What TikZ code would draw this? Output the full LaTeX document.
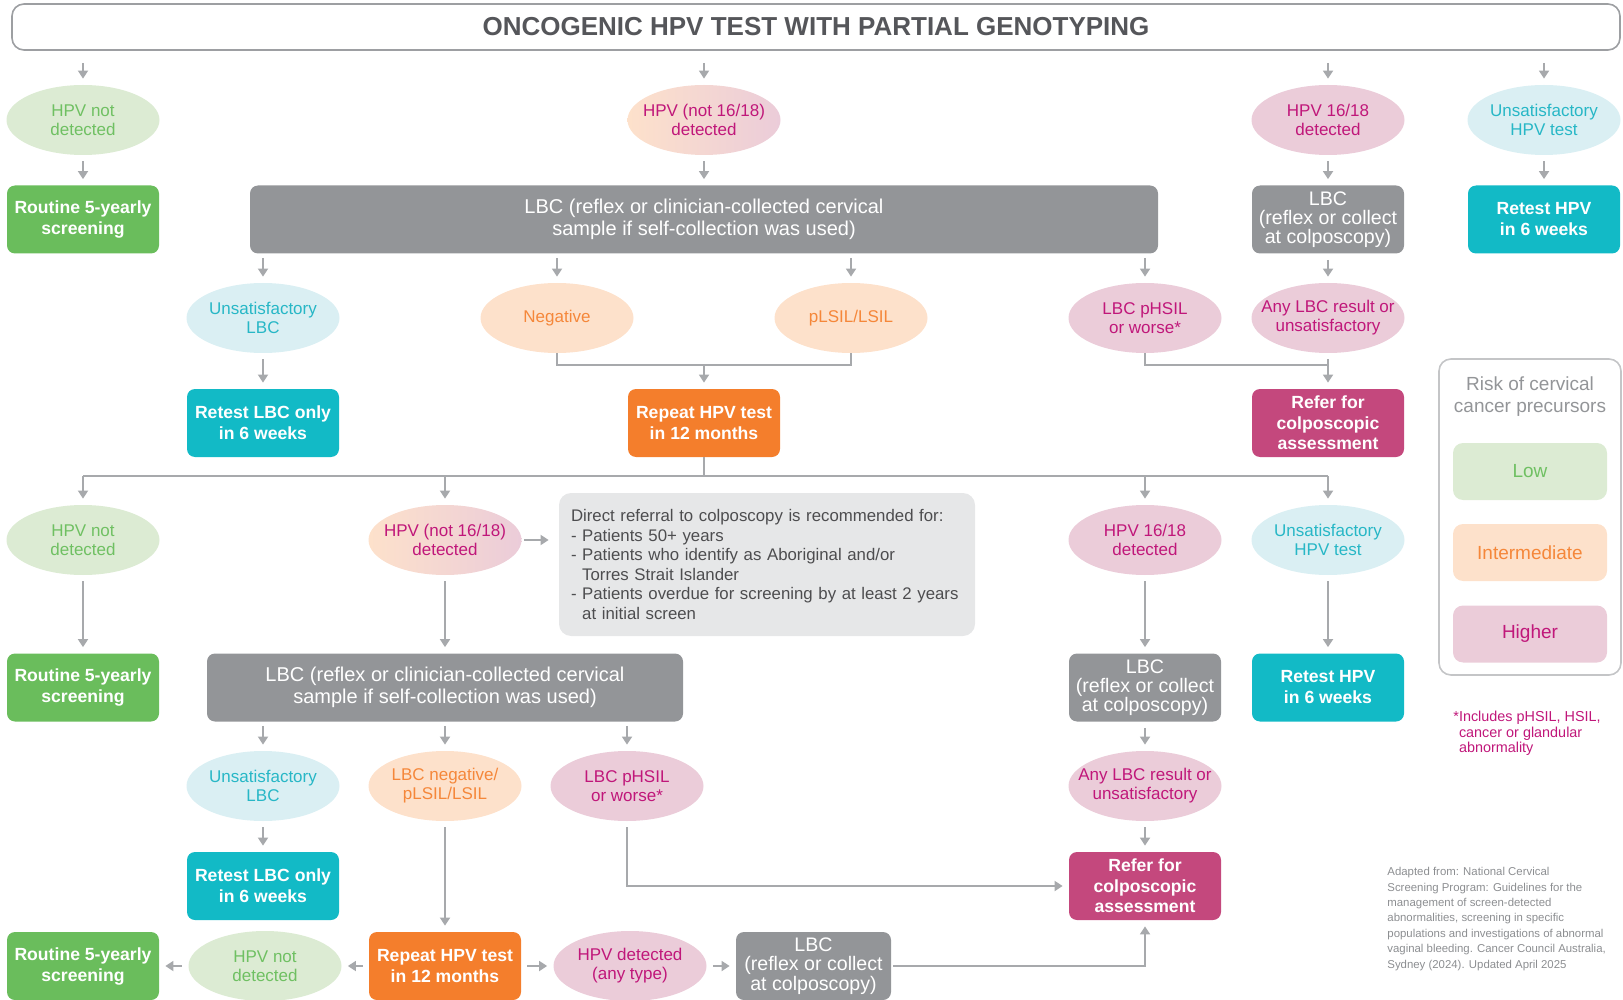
\documentclass[tikz,border=0pt]{standalone}
\usepackage{fontspec}
\setmainfont{Liberation Sans}
\usetikzlibrary{arrows.meta, shapes.geometric}

\definecolor{lineg}{HTML}{A7A9AC}
\definecolor{framegr}{HTML}{9D9FA2}
\definecolor{titletx}{HTML}{55565A}
\definecolor{greenbox}{HTML}{6ABD5C}
\definecolor{greenlt}{HTML}{DCEBD3}
\definecolor{greentx}{HTML}{6FC062}
\definecolor{cyanbox}{HTML}{12BAC6}
\definecolor{cyanlt}{HTML}{DAEFF3}
\definecolor{cyantx}{HTML}{27B7C6}
\definecolor{orangebox}{HTML}{F47E2C}
\definecolor{orangelt}{HTML}{FDE1CB}
\definecolor{orangetx}{HTML}{F5873A}
\definecolor{pinkbox}{HTML}{C4487D}
\definecolor{pinklt}{HTML}{EBCCD9}
\definecolor{pinktx}{HTML}{C0177A}
\definecolor{graybox}{HTML}{939598}
\definecolor{infofill}{HTML}{E6E7E8}
\definecolor{infotx}{HTML}{4D4D4F}
\definecolor{citegr}{HTML}{8C8E91}

\begin{document}
\begin{tikzpicture}[x = 0.5pt, y = -0.5pt,
    ln/.style = {draw = lineg, line width = 0.9pt},
    arr/.style = {ln, -{Triangle[width = 5pt, length = 4pt]}, shorten <= 3pt, shorten >= 3pt},
    ell/.style = {ellipse, minimum width = 76.5pt, minimum height = 35pt, inner xsep = -10pt, inner ysep = 0pt,
        align = center, font = \fontsize{8.5}{9.5}\selectfont},
    lowell/.style = {ell, fill = greenlt, text = greentx},
    midell/.style = {ell, fill = orangelt, text = orangetx},
    highell/.style = {ell, fill = pinklt, text = pinktx},
    unsell/.style = {ell, fill = cyanlt, text = cyantx},
    mixell/.style = {ell, left color = orangelt, right color = pinklt, text = pinktx},
    bx/.style = {rectangle, rounded corners = 4pt, minimum width = 76pt, minimum height = 34pt, inner sep = 1pt,
        align = center, text = white, font = \fontsize{8.8}{10.5}\selectfont},
    greenbx/.style = {bx, fill = greenbox, font = \fontsize{8.8}{10.5}\selectfont\bfseries},
    cyanbx/.style = {bx, fill = cyanbox, font = \fontsize{8.8}{10.5}\selectfont\bfseries},
    orangebx/.style = {bx, fill = orangebox, font = \fontsize{8.8}{10.5}\selectfont\bfseries},
    pinkbx/.style = {bx, fill = pinkbox, font = \fontsize{8.8}{10.3}\selectfont\bfseries},
    graybx/.style = {bx, fill = graybox, font = \fontsize{10}{11.2}\selectfont},
    lbcbx/.style = {bx, fill = graybox, font = \fontsize{9.8}{9.6}\selectfont},
    keybx/.style = {rectangle, rounded corners = 5pt, minimum width = 77pt, minimum height = 28.5pt,
        font = \fontsize{9.5}{11}\selectfont}]

    \useasboundingbox (0,0) rectangle (1623,1000);

    \node (title) at (816,27) [draw = framegr, line width = 0.8pt, rounded corners = 6pt, minimum width = 804pt,
        minimum height = 23pt, text = titletx, font = \fontsize{13}{16}\selectfont\bfseries] {ONCOGENIC HPV TEST WITH PARTIAL GENOTYPING};

    \node (nd1) at (83,120) [lowell] {HPV not\\detected};
    \node (hpvA1) at (704,120) [mixell] {HPV (not 16/18)\\detected};
    \node (hpvB1) at (1328,120) [highell] {HPV 16/18\\detected};
    \node (unsHPV1) at (1544,120) [unsell] {Unsatisfactory\\HPV test};

    \node (rout1) at (83,219.5) [greenbx] {Routine 5-yearly\\screening};
    \node (lbcA1) at (704,219.5) [graybx, minimum width = 454pt] {LBC (reflex or clinician-collected cervical\\sample if self-collection was used)};
    \node (lbcB1) at (1328,219.5) [lbcbx] {LBC\\(reflex or collect\\at colposcopy)};
    \node (retHPV1) at (1544,219.5) [cyanbx] {Retest HPV\\in 6 weeks};

    \node (unsLBC1) at (263,318) [unsell] {Unsatisfactory\\LBC};
    \node (neg1) at (557,318) [midell] {Negative};
    \node (plsil1) at (851,318) [midell] {pLSIL/LSIL};
    \node (phsil1) at (1145,318) [highell] {LBC pHSIL\\or worse*};
    \node (anyLBC1) at (1328,318) [highell] {Any LBC result or\\unsatisfactory};

    \node (retLBC1) at (263,423) [cyanbx] {Retest LBC only\\in 6 weeks};
    \node (rep1) at (704,423) [orangebx] {Repeat HPV test\\in 12 months};
    \node (ref1) at (1328,423) [pinkbx] {Refer for\\colposcopic\\assessment};

    \node (nd2) at (83,540) [lowell] {HPV not\\detected};
    \node (hpvA2) at (445,540) [mixell] {HPV (not 16/18)\\detected};
    \node (hpvB2) at (1145,540) [highell] {HPV 16/18\\detected};
    \node (unsHPV2) at (1328,540) [unsell] {Unsatisfactory\\HPV test};
    \node (info) at (767,564.5) [rectangle, rounded corners = 6pt, fill = infofill, text = infotx, minimum width = 208pt,
        minimum height = 71.5pt, text width = 196pt, inner xsep = 6pt, align = left, font = \fontsize{8.4}{9.75}\selectfont]
        {Direct referral to colposcopy is recommended for:\\- Patients 50+ years\\- Patients who identify as Aboriginal and/or\\\phantom{- }Torres Strait Islander\\- Patients overdue for screening by at least 2 years\\\phantom{- }at initial screen};

    \node (rout2) at (83,687.5) [greenbx] {Routine 5-yearly\\screening};
    \node (lbcA2) at (445,687.5) [graybx, minimum width = 238pt] {LBC (reflex or clinician-collected cervical\\sample if self-collection was used)};
    \node (lbcB2) at (1145,687.5) [lbcbx] {LBC\\(reflex or collect\\at colposcopy)};
    \node (retHPV2) at (1328,687.5) [cyanbx] {Retest HPV\\in 6 weeks};

    \node (unsLBC2) at (263,786) [unsell] {Unsatisfactory\\LBC};
    \node (lneg2) at (445,786) [midell] {LBC negative/\\pLSIL/LSIL};
    \node (phsil2) at (627,786) [highell] {LBC pHSIL\\or worse*};
    \node (anyLBC2) at (1145,786) [highell] {Any LBC result or\\unsatisfactory};

    \node (retLBC2) at (263,886) [cyanbx] {Retest LBC only\\in 6 weeks};
    \node (ref2) at (1145,886) [pinkbx] {Refer for\\colposcopic\\assessment};

    \node (rout3) at (83,966) [greenbx] {Routine 5-yearly\\screening};
    \node (nd3) at (265,966) [lowell] {HPV not\\detected};
    \node (rep2) at (445,966) [orangebx] {Repeat HPV test\\in 12 months};
    \node (hpvdet) at (630,966) [highell] {HPV detected\\(any type)};
    \node (lbcB3) at (813.5,966) [lbcbx, minimum width = 77.5pt] {LBC\\(reflex or collect\\at colposcopy)};

    \node (legend) at (1530,517) [draw = framegr!60, line width = 0.8pt, rounded corners = 6pt, minimum width = 91pt, minimum height = 158pt] {};
    \node (risk) at (1530,397) [text = graybox, align = center, font = \fontsize{9.5}{11}\selectfont] {Risk of cervical\\cancer precursors};
    \node (low) at (1530,471.5) [keybx, fill = greenlt, text = greentx] {Low};
    \node (mid) at (1530,552.5) [keybx, fill = orangelt, text = orangetx] {Intermediate};
    \node (high) at (1530,634) [keybx, fill = pinklt, text = pinktx] {Higher};

    \node (note) at (1453,711) [anchor = north west, inner sep = 0pt, text = pinktx, align = left, font = \fontsize{7.2}{7.6}\selectfont]
        {*Includes pHSIL, HSIL,\\\phantom{*}cancer or glandular\\\phantom{*}abnormality};
    \node (source) at (1387,867) [anchor = north west, inner sep = 0pt, text = citegr, align = left, font = \fontsize{5.7}{7.7}\selectfont]
        {Adapted from: National Cervical\\Screening Program: Guidelines for the\\management of screen-detected\\abnormalities, screening in specific\\populations and investigations of abnormal\\vaginal bleeding. Cancer Council Australia,\\Sydney (2024). Updated April 2025};

    \foreach \n in {nd1, hpvA1, hpvB1, unsHPV1}
        \draw[arr, shorten <= 6pt] (title.south -| \n) -- (\n);
    \draw[arr] (nd1) -- (rout1);
    \draw[arr] (hpvA1) -- (lbcA1);
    \draw[arr] (hpvB1) -- (lbcB1);
    \draw[arr] (unsHPV1) -- (retHPV1);

    \foreach \n in {unsLBC1, neg1, plsil1, phsil1}
        \draw[arr, shorten <= 2pt] (lbcA1.south -| \n) -- (\n);
    \draw[arr] (lbcB1) -- (anyLBC1);

    \coordinate (jn1) at (704,365);
    \coordinate (jn2) at (1328,365);
    \draw[arr] (unsLBC1) -- (retLBC1);
    \draw[ln] (neg1) |- (jn1) -| (plsil1);
    \draw[arr, shorten <= 0pt] (jn1) -- (rep1);
    \draw[ln] (phsil1) |- (jn2);
    \draw[arr] (anyLBC1) -- (ref1);

    \coordinate (hub) at (704,476);
    \draw[ln] (rep1) -- (hub);
    \draw[ln] (hub -| nd2) -- (hub -| unsHPV2);
    \foreach \n in {nd2, hpvA2, hpvB2, unsHPV2}
        \draw[arr, shorten <= 0pt] (hub -| \n) -- (\n);

    \draw[arr, shorten <= 1pt, shorten >= 5pt] (hpvA2.east) -- (hpvA2.east -| info.west);
    \draw[arr] (nd2) -- (rout2);
    \draw[arr] (hpvA2) -- (lbcA2);
    \draw[arr] (hpvB2) -- (lbcB2);
    \draw[arr] (unsHPV2) -- (retHPV2);

    \foreach \n in {unsLBC2, lneg2, phsil2}
        \draw[arr, shorten <= 2pt] (lbcA2.south -| \n) -- (\n);
    \draw[arr] (lbcB2) -- (anyLBC2);

    \draw[arr] (unsLBC2) -- (retLBC2);
    \draw[arr] (anyLBC2) -- (ref2);
    \draw[arr] (phsil2) |- (ref2);
    \draw[arr] (lneg2) -- (rep2);

    \draw[arr] (rep2) -- (nd3);
    \draw[arr] (nd3) -- (rout3);
    \draw[arr] (rep2) -- (hpvdet);
    \draw[arr] (hpvdet) -- (lbcB3);
    \draw[arr, shorten <= 1pt] (lbcB3) -| (ref2);
\end{tikzpicture}
\end{document}
